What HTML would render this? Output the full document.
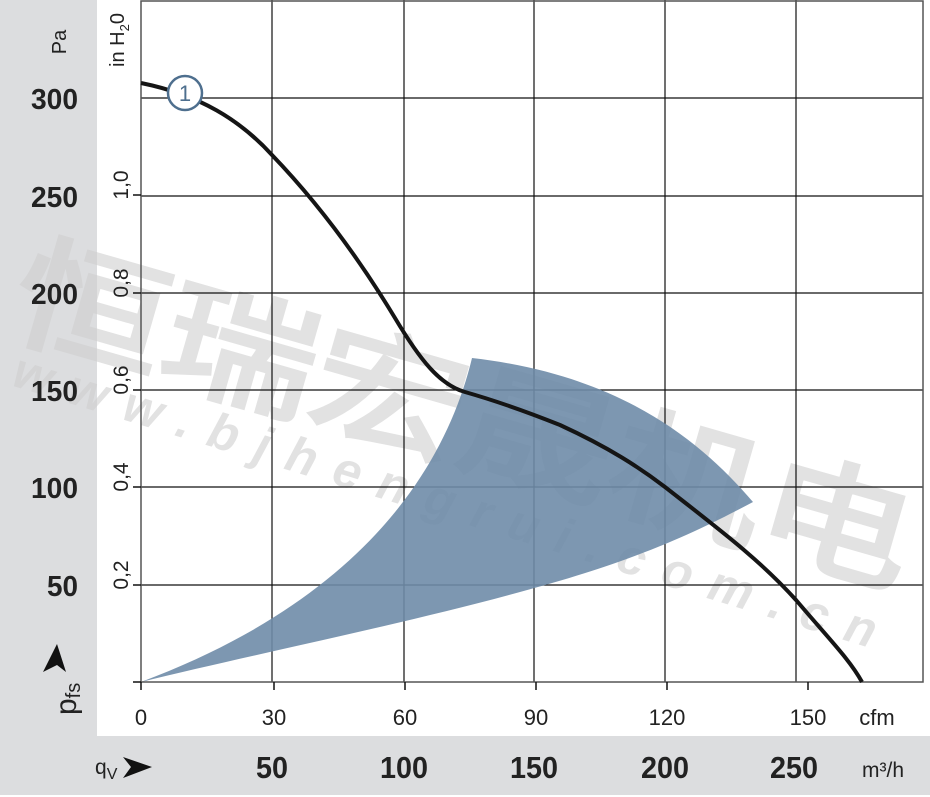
<!DOCTYPE html>
<html><head><meta charset="utf-8"><style>
html,body{margin:0;padding:0;background:#fff}
svg{display:block}
text{font-family:"Liberation Sans",sans-serif}
</style></head><body>
<svg width="930" height="797" viewBox="0 0 930 797" xmlns="http://www.w3.org/2000/svg">
<rect x="0" y="0" width="97" height="736" fill="#dcdddf"/>
<rect x="0" y="736" width="930" height="59" fill="#dcdddf"/>
<g fill="#cfcfcf" opacity="0.6">
<text x="5" y="330" font-size="125" font-weight="bold" transform="rotate(16 5 330)" font-family="'Noto Sans CJK SC',sans-serif" textLength="930" lengthAdjust="spacingAndGlyphs">恒瑞宏晟机电</text>
<text x="10" y="385" font-size="50" font-weight="bold" transform="rotate(17 10 385)" font-style="italic" textLength="900" lengthAdjust="spacing">www.bjhengrui.com.cn</text>
</g>
<g stroke="#111" stroke-width="1.2">
<line x1="272" y1="0" x2="272" y2="682"/><line x1="404" y1="0" x2="404" y2="682"/>
<line x1="534" y1="0" x2="534" y2="682"/><line x1="665" y1="0" x2="665" y2="682"/>
<line x1="796" y1="0" x2="796" y2="682"/>
<line x1="141" y1="98" x2="923" y2="98"/><line x1="141" y1="196" x2="923" y2="196"/>
<line x1="141" y1="293" x2="923" y2="293"/><line x1="141" y1="390" x2="923" y2="390"/>
<line x1="141" y1="487" x2="923" y2="487"/><line x1="141" y1="585" x2="923" y2="585"/>
</g>
<path d="M141,682 C250,655 400,625 520,592 C640,560 700,530 753,502 C700,440 620,375 472,358 C445,470 360,600 141,682 Z" fill="#6f8ca8" fill-opacity="0.9"/>
<rect x="141" y="1" width="782" height="681" stroke="#555" stroke-width="1.5" fill="none"/>
<g stroke="#111" stroke-width="1.5">
<line x1="133" y1="682" x2="141" y2="682"/>
<line x1="133" y1="195" x2="141" y2="195"/><line x1="133" y1="293" x2="141" y2="293"/>
<line x1="133" y1="390" x2="141" y2="390"/><line x1="133" y1="487" x2="141" y2="487"/>
<line x1="133" y1="585" x2="141" y2="585"/>
<line x1="141" y1="682" x2="141" y2="690"/><line x1="274" y1="682" x2="274" y2="690"/>
<line x1="405" y1="682" x2="405" y2="690"/><line x1="536" y1="682" x2="536" y2="690"/>
<line x1="667" y1="682" x2="667" y2="690"/><line x1="808" y1="682" x2="808" y2="690"/>
</g>
<path d="M141,83 C200,95 240,120 272,155 C320,205 360,260 395,318 C420,360 440,385 465,392 C500,402 535,415 560,425 C610,448 640,468 665,487 C720,530 760,560 796,600 C830,640 850,660 862,682" fill="none" stroke="#151515" stroke-width="4"/>
<circle cx="185" cy="93" r="17" fill="#fff" stroke="#4e6f8e" stroke-width="2.5"/>
<text x="185" y="101" font-size="22" text-anchor="middle" fill="#4e6f8e">1</text>
<g font-size="29" font-weight="bold" fill="#222">
<text x="31" y="109" textLength="47" lengthAdjust="spacingAndGlyphs">300</text>
<text x="31" y="207" textLength="47" lengthAdjust="spacingAndGlyphs">250</text>
<text x="31" y="304" textLength="47" lengthAdjust="spacingAndGlyphs">200</text>
<text x="31" y="401" textLength="47" lengthAdjust="spacingAndGlyphs">150</text>
<text x="31" y="498" textLength="47" lengthAdjust="spacingAndGlyphs">100</text>
<text x="47" y="596" textLength="31" lengthAdjust="spacingAndGlyphs">50</text>
</g>
<text transform="translate(66 42) rotate(-90)" font-size="20" fill="#222" text-anchor="middle">Pa</text>
<text transform="translate(124 40) rotate(-90)" font-size="20" fill="#222" text-anchor="middle">in H<tspan font-size="13" dy="5">2</tspan><tspan dy="-5">0</tspan></text>
<g font-size="21" fill="#222" text-anchor="middle">
<text transform="translate(128 185) rotate(-90)">1,0</text>
<text transform="translate(128 283) rotate(-90)">0,8</text>
<text transform="translate(128 380) rotate(-90)">0,6</text>
<text transform="translate(128 477) rotate(-90)">0,4</text>
<text transform="translate(128 575) rotate(-90)">0,2</text>
</g>
<path d="M57,644 L43,672 L57,665 L66,672 Z" fill="#111"/>
<text transform="translate(76 715) rotate(-90)" font-size="30" fill="#222">p<tspan font-size="20" dy="4">fs</tspan></text>
<g font-size="22" fill="#222" text-anchor="middle">
<text x="141" y="725">0</text><text x="274" y="725">30</text><text x="405" y="725">60</text>
<text x="536" y="725">90</text><text x="667" y="725">120</text><text x="808" y="725">150</text>
<text x="877" y="725">cfm</text>
</g>
<text x="95" y="774" font-size="21" fill="#222">q<tspan font-size="16" dy="5">V</tspan></text>
<path d="M123,757 L152,767 L123,778 L131,767 Z" fill="#111"/>
<g font-size="31" font-weight="bold" fill="#222">
<text x="256" y="778" textLength="32" lengthAdjust="spacingAndGlyphs">50</text>
<text x="380" y="778" textLength="48" lengthAdjust="spacingAndGlyphs">100</text>
<text x="510" y="778" textLength="48" lengthAdjust="spacingAndGlyphs">150</text>
<text x="641" y="778" textLength="48" lengthAdjust="spacingAndGlyphs">200</text>
<text x="770" y="778" textLength="48" lengthAdjust="spacingAndGlyphs">250</text>
</g>
<text x="883" y="777" font-size="21" fill="#222" text-anchor="middle">m³/h</text>
</svg>
</body></html>
